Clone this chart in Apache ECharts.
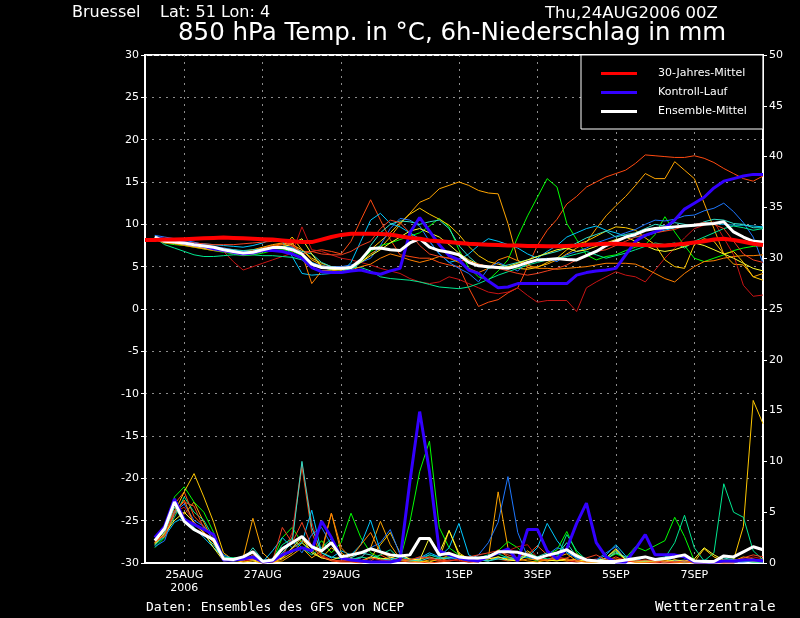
<!DOCTYPE html>
<html>
<head>
<meta charset="utf-8">
<script src="https://cdn.jsdelivr.net/npm/echarts@6/dist/echarts.min.js"></script>
<style>
  html, body { margin: 0; padding: 0; background: #000; }
  #chart { width: 800px; height: 618px; }
</style>
</head>
<body>
<div id="chart"></div>
<script>
'use strict';

// forecast hours since 24AUG2006 00Z (6h steps)
const HOURS = [0, 6, 12, 18, 24, 30, 36, 42, 48, 54, 60, 66, 72, 78, 84, 90, 96, 102, 108, 114,
  120, 126, 132, 138, 144, 150, 156, 162, 168, 174, 180, 186, 192, 198, 204, 210, 216, 222, 228, 234,
  240, 246, 252, 258, 264, 270, 276, 282, 288, 294, 300, 306, 312, 318, 324, 330, 336, 342, 348, 354,
  360, 366, 372, 378];
const TICK_HOURS = [24, 72, 120, 192, 240, 288, 336];
const TICK_LABELS = ['25AUG\n2006', '27AUG', '29AUG', '1SEP', '3SEP', '5SEP', '7SEP'];

// 30-year mean, from hour 0
const CLIMATE = [8.15, 8.15, 8.2, 8.2, 8.25, 8.3, 8.35, 8.4, 8.45, 8.4,
  8.35, 8.3, 8.25, 8.2, 8.1, 8.0, 7.9, 7.9, 8.2, 8.5,
  8.75, 8.9, 8.9, 8.9, 8.85, 8.8, 8.6, 8.4, 8.3, 8.1,
  8.0, 7.9, 7.8, 7.7, 7.65, 7.6, 7.55, 7.5, 7.5, 7.45,
  7.45, 7.4, 7.4, 7.45, 7.5, 7.6, 7.65, 7.7, 7.7, 7.65,
  7.6, 7.55, 7.5, 7.5, 7.6, 7.7, 7.85, 8.0, 8.2, 8.3,
  8.15, 7.95, 7.7, 7.55];

// all following series start at hour 6
const CTRL_T = [8.4, 8.2, 8.0, 7.8, 7.6, 7.4, 7.1, 6.9, 6.7, 6.5,
  6.6, 6.9, 6.9, 6.8, 6.5, 6.0, 4.9, 4.4, 4.3, 4.3,
  4.5, 4.6, 4.3, 4.1, 4.5, 4.8, 9.0, 10.8, 9.2, 7.6,
  6.3, 5.8, 4.6, 4.2, 3.3, 2.5, 2.6, 3.0, 3.0, 3.0,
  3.0, 3.0, 3.0, 4.0, 4.3, 4.5, 4.6, 4.8, 6.4, 8.0,
  8.7, 9.1, 9.6, 10.5, 11.8, 12.5, 13.2, 14.3, 15.1, 15.4,
  15.7, 15.9, 15.9];
const MEAN_T = [8.5, 8.0, 7.9, 7.8, 7.6, 7.45, 7.3, 7.0, 6.8, 6.6,
  6.7, 7.0, 7.25, 7.25, 7.0, 6.5, 5.3, 4.9, 4.85, 4.8,
  4.9, 5.8, 7.15, 7.2, 7.0, 6.9, 7.8, 8.3, 7.3, 6.9,
  6.7, 6.4, 5.5, 5.1, 5.0, 4.9, 4.8, 5.1, 5.5, 5.8,
  5.85, 5.95, 5.85, 5.8, 6.3, 6.8, 7.5, 8.0, 8.5, 8.8,
  9.3, 9.5, 9.6, 9.7, 9.8, 9.9, 10.0, 10.1, 10.3, 9.1,
  8.5, 8.0, 7.9];
const CTRL_P = [2.5, 3.6, 6.3, 4.3, 3.8, 3.3, 2.8, 0.3, 0.3, 0.4,
  0.6, 0.1, 0.2, 0.8, 1.2, 1.5, 1.2, 4.1, 2.5, 0.5,
  0.3, 0.2, 0.1, 0.1, 0.1, 0.3, 8.0, 14.9, 9.0, 1.2,
  0.8, 0.5, 0.3, 0.2, 0.6, 1.0, 1.4, 0.2, 3.3, 3.3,
  1.2, 0.4, 1.4, 3.9, 5.9, 2.0, 0.6, 0.1, 0.1, 1.4,
  2.8, 0.8, 0.8, 0.8, 0.6, 0.1, 0.1, 0.1, 0.2, 0.2,
  0.3, 0.3, 0.2];
const MEAN_P = [2.2, 3.4, 6.0, 4.1, 3.3, 2.8, 2.3, 0.4, 0.35, 0.6,
  1.1, 0.15, 0.3, 1.4, 2.0, 2.6, 1.6, 1.2, 2.0, 0.6,
  0.8, 1.0, 1.4, 1.1, 0.8, 0.7, 0.8, 2.4, 2.4, 0.8,
  0.95, 0.6, 0.5, 0.5, 0.6, 1.1, 1.1, 1.05, 0.8, 0.45,
  0.75, 1.0, 1.3, 0.7, 0.3, 0.2, 0.15, 0.15, 0.3, 0.45,
  0.6, 0.35, 0.45, 0.6, 0.8, 0.2, 0.15, 0.15, 0.7, 0.6,
  1.1, 1.6, 1.3];

// ensemble members: 850 hPa temperature
const T_A = [8.4, 8.1, 7.9, 7.7, 7.5, 7.4, 7.3, 7.2, 7.0, 6.8,
  6.9, 7.2, 7.5, 7.7, 7.4, 6.8, 6.8, 7.0, 6.8, 6.5,
  8.0, 10.5, 12.9, 10.5, 8.2, 6.4, 6.2, 6.0, 6.0, 5.5,
  5.2, 5.0, 2.5, 0.3, 0.8, 1.1, 1.9, 2.5, 5.0, 7.5,
  9.3, 10.6, 12.4, 13.3, 14.4, 15.0, 15.6, 16.0, 16.4, 17.2,
  18.2, 18.1, 18.0, 17.9, 17.9, 18.1, 17.8, 17.3, 16.6, 16.0,
  15.4, 15.1, 15.7];
const T_B = [8.3, 7.9, 7.8, 7.6, 7.5, 7.2, 7.1, 7.0, 6.9, 6.8,
  7.0, 7.3, 7.6, 7.8, 7.6, 7.0, 5.8, 5.2, 4.8, 4.6,
  4.8, 5.5, 6.5, 7.2, 8.5, 10.0, 11.3, 12.6, 13.1, 14.2,
  14.6, 15.0, 14.6, 14.0, 13.7, 13.6, 10.1, 5.8, 4.9, 5.0,
  5.3, 5.8, 6.5, 7.2, 7.9, 9.5, 11.0, 12.2, 13.3, 14.6,
  16.0, 15.4, 15.4, 17.4, 16.4, 15.4, 12.5, 9.5, 6.5, 5.3,
  5.2, 3.8, 4.2];
const T_C = [8.2, 7.8, 7.6, 7.5, 7.3, 7.1, 6.9, 6.7, 6.5, 6.3,
  6.4, 6.6, 6.9, 7.0, 6.8, 6.3, 5.5, 5.0, 4.6, 4.4,
  4.8, 5.6, 6.8, 7.5, 7.8, 8.2, 8.6, 9.0, 9.8, 10.7,
  9.7, 7.0, 4.9, 3.8, 3.4, 4.5, 5.8, 8.5, 11.0, 13.2,
  15.4, 14.4, 10.1, 8.2, 6.4, 5.8, 6.2, 6.4, 6.9, 7.3,
  7.6, 8.8, 10.9, 9.1, 7.5, 6.0, 5.6, 6.0, 6.4, 6.9,
  7.2, 7.4, 7.5];
const T_D = [8.3, 8.0, 7.8, 7.6, 7.4, 7.2, 7.0, 6.8, 5.6, 4.6,
  5.0, 5.4, 5.8, 6.2, 6.6, 9.7, 7.0, 6.8, 6.4, 6.0,
  5.8, 5.5, 5.2, 4.8, 4.5, 4.2, 3.6, 3.2, 3.0, 3.2,
  3.8, 3.5, 3.0, 2.5, 2.0, 1.8, 2.0, 2.5, 1.6, 0.8,
  1.0, 1.0, 1.0, -0.3, 2.5, 3.2, 3.8, 4.4, 4.0, 3.8,
  3.2, 4.6, 6.0, 7.2, 8.4, 9.5, 9.9, 10.3, 8.4, 6.4,
  2.8, 1.5, 1.65];
const T_E = [8.5, 8.1, 7.9, 7.7, 7.6, 7.4, 7.2, 7.0, 6.7, 6.5,
  6.6, 6.9, 7.2, 7.3, 8.5, 7.0, 6.0, 5.4, 5.0, 4.7,
  5.0, 5.8, 7.0, 8.0, 9.0, 10.2, 11.2, 11.9, 11.2, 10.6,
  9.9, 8.8, 7.4, 6.3, 5.6, 5.3, 5.0, 4.8, 4.7, 4.9,
  5.5, 6.0, 7.0, 7.6, 8.0, 8.6, 9.2, 9.7, 9.6, 9.3,
  8.4, 7.6, 5.8, 5.0, 4.8, 7.6, 8.3, 8.0, 6.5, 6.8,
  5.5, 3.8, 3.4];
const T_F = [8.6, 8.3, 8.1, 7.9, 7.8, 7.7, 7.6, 7.5, 7.4, 7.3,
  7.5, 7.8, 8.3, 8.0, 6.2, 4.2, 4.0, 4.1, 4.2, 4.3,
  5.5, 8.0, 10.5, 11.3, 10.1, 9.7, 9.0, 8.3, 8.0, 6.5,
  5.5, 5.8, 6.5, 7.5, 8.3, 8.0, 7.6, 7.2, 6.5, 6.0,
  6.8, 7.5, 8.5, 9.0, 9.5, 9.8, 9.3, 9.0, 8.6, 8.5,
  8.6, 9.0, 9.3, 9.6, 9.8, 10.0, 10.2, 10.1, 10.0, 9.9,
  9.9, 9.8, 9.7];
const T_G = [8.7, 8.5, 8.3, 8.1, 7.9, 7.6, 7.4, 7.2, 7.0, 6.8,
  6.8, 7.0, 7.2, 7.4, 7.3, 6.5, 5.5, 5.1, 5.0, 5.0,
  5.2, 5.5, 6.0, 7.5, 9.5, 10.7, 10.5, 9.8, 8.0, 6.5,
  5.5, 4.8, 4.2, 3.2, 4.8, 5.5, 5.0, 4.5, 5.5, 5.8,
  6.0, 5.6, 6.4, 6.8, 7.2, 7.8, 8.2, 8.6, 9.0, 9.4,
  10.0, 10.5, 10.4, 10.6, 11.0, 11.1, 11.6, 11.9, 12.5, 11.5,
  10.2, 8.5, 5.4];
const T_H = [8.4, 7.6, 7.2, 6.8, 6.4, 6.2, 6.2, 6.3, 6.4, 6.4,
  6.4, 6.3, 6.3, 6.2, 6.1, 5.8, 4.8, 4.5, 4.6, 4.8,
  4.9, 4.9, 4.5, 3.8, 3.6, 3.5, 3.4, 3.2, 2.9, 2.6,
  2.5, 2.4, 2.6, 3.0, 3.5, 4.0, 4.4, 4.8, 5.2, 5.5,
  5.8, 6.0, 6.2, 6.5, 6.8, 6.4, 6.0, 6.3, 6.6, 7.0,
  7.4, 7.8, 7.6, 7.8, 7.2, 8.0, 8.5, 9.0, 9.5, 9.8,
  9.6, 9.3, 9.5];
const T_I = [8.2, 7.8, 7.7, 7.5, 7.3, 7.1, 6.9, 6.8, 6.6, 6.4,
  6.6, 7.0, 7.4, 7.6, 7.8, 6.5, 3.0, 4.5, 4.6, 4.4,
  4.6, 5.0, 5.3, 6.0, 6.5, 6.2, 5.8, 5.5, 5.8, 6.2,
  6.0, 5.5, 4.8, 4.3, 4.8, 5.8, 6.2, 5.7, 5.2, 4.8,
  4.8, 4.7, 4.8, 4.9, 5.0, 5.2, 5.4, 5.4, 5.4, 5.3,
  4.8, 4.2, 3.6, 3.2, 4.2, 5.0, 5.6, 5.7, 6.0, 6.2,
  6.3, 6.3, 6.4];
const T_J = [8.6, 8.2, 8.0, 7.8, 7.6, 7.5, 7.3, 7.1, 7.0, 6.9,
  7.0, 7.1, 7.3, 7.4, 7.2, 6.8, 6.5, 5.5, 5.0, 4.8,
  4.6, 5.5, 7.5, 9.0, 10.0, 10.4, 10.3, 10.0, 10.3, 10.5,
  9.5, 7.5, 6.2, 5.2, 4.8, 5.0, 5.2, 5.5, 5.8, 6.2,
  6.5, 6.8, 7.2, 7.8, 8.4, 8.8, 9.2, 8.5, 8.8, 9.0,
  9.5, 10.0, 9.8, 10.2, 10.0, 9.8, 10.3, 10.6, 10.5, 10.1,
  10.0, 9.6, 9.6];
const T_K = [8.4, 8.0, 7.8, 7.6, 7.4, 7.2, 7.0, 6.8, 6.6, 6.4,
  6.5, 6.8, 7.1, 7.3, 7.7, 8.3, 6.5, 5.0, 4.7, 4.6,
  5.0, 5.5, 6.3, 7.0, 7.8, 8.5, 9.2, 9.5, 9.0, 8.5,
  7.6, 6.6, 5.8, 5.3, 5.0, 4.8, 5.0, 5.4, 5.8, 6.2,
  6.6, 7.0, 7.2, 6.8, 7.0, 7.4, 7.8, 8.2, 8.5, 8.0,
  7.5, 7.0, 6.8, 7.0, 7.4, 7.8, 7.5, 7.0, 6.5, 6.0,
  5.4, 4.8, 4.5];
const T_L = [8.5, 8.2, 8.0, 7.9, 7.8, 7.7, 7.6, 7.6, 7.6, 7.7,
  7.8, 7.9, 8.0, 8.0, 7.5, 6.5, 6.8, 6.5, 6.4, 6.4,
  6.8, 7.5, 8.0, 9.5, 10.5, 10.2, 9.0, 7.5, 6.5, 6.2,
  6.0, 5.8, 5.6, 5.3, 5.0, 4.8, 4.5, 4.2, 4.0, 4.2,
  4.5, 4.8, 5.2, 5.8, 6.2, 6.8, 7.0, 7.5, 8.0, 8.5,
  8.8, 9.0, 9.2, 9.4, 9.8, 10.0, 10.2, 10.0, 9.5, 8.0,
  6.5, 5.8, 5.5];

// ensemble members: 6h precipitation
const P_A = [2.0, 3.2, 5.8, 7.0, 4.6, 3.6, 2.6, 0.4, 0.2, 0.3,
  0.4, 0.0, 0.1, 0.6, 2.6, 9.5, 3.0, 0.6, 0.2, 0.1,
  0.1, 0.0, 0.2, 0.8, 0.3, 0.2, 0.1, 0.1, 0.0, 0.1,
  0.2, 0.3, 0.1, 0.1, 0.5, 0.4, 0.2, 0.3, 0.8, 1.7,
  0.8, 0.3, 0.5, 0.9, 0.3, 0.1, 0.2, 0.6, 0.2, 0.1,
  0.1, 0.0, 0.0, 0.0, 0.1, 0.2, 0.1, 0.0, 0.0, 0.0,
  0.3, 0.2, 0.2];
const P_B = [1.8, 3.0, 5.5, 4.8, 6.0, 4.0, 2.0, 0.3, 0.2, 0.5,
  4.4, 1.0, 0.1, 0.2, 0.8, 1.5, 0.5, 1.2, 4.9, 1.0,
  0.3, 0.5, 1.5, 4.1, 1.8, 0.4, 0.2, 0.1, 0.3, 0.2,
  0.5, 0.8, 0.4, 0.3, 0.5, 7.0, 1.5, 0.4, 0.2, 0.1,
  0.3, 0.6, 0.9, 0.2, 0.1, 0.1, 0.5, 1.3, 0.4, 0.1,
  0.1, 0.2, 0.1, 0.3, 0.1, 0.0, 0.0, 0.1, 0.0, 0.2,
  0.6, 0.4, 0.1];
const P_C = [1.5, 2.5, 6.5, 7.5, 6.0, 5.0, 3.0, 0.5, 0.5, 0.4,
  0.3, 0.1, 0.2, 2.5, 3.5, 2.0, 1.0, 2.2, 1.0, 2.0,
  4.9, 2.5, 1.0, 0.5, 0.2, 0.3, 4.0, 9.0, 12.0, 3.5,
  1.5, 0.8, 0.4, 0.3, 0.4, 1.2, 2.1, 1.5, 0.5, 0.2,
  0.8, 1.3, 3.1, 1.0, 0.2, 0.1, 0.4, 0.9, 0.5, 1.6,
  1.2, 1.7, 2.2, 4.5, 2.6, 0.2, 0.2, 0.1, 0.3, 0.4,
  0.2, 0.1, 0.1];
const P_D = [2.2, 2.8, 5.0, 5.5, 4.0, 3.0, 2.4, 0.4, 0.3, 0.2,
  0.3, 0.0, 0.2, 0.8, 3.0, 9.8, 4.0, 0.8, 0.3, 0.2,
  0.2, 0.1, 0.1, 0.2, 0.5, 0.3, 0.2, 0.6, 0.4, 0.2,
  0.3, 0.2, 0.1, 0.2, 0.5, 1.0, 1.2, 1.6, 1.8, 0.5,
  0.3, 0.5, 0.2, 0.1, 0.2, 0.4, 0.2, 0.3, 0.6, 0.2,
  0.1, 0.1, 0.0, 0.1, 0.1, 0.0, 0.0, 0.1, 0.0, 0.0,
  0.3, 0.6, 0.4];
const P_E = [2.0, 3.5, 5.0, 7.0, 8.8, 6.5, 4.0, 1.0, 0.3, 0.1,
  0.2, 0.0, 0.1, 0.4, 1.0, 2.0, 1.2, 0.5, 1.5, 0.8,
  0.3, 0.2, 0.5, 1.8, 3.0, 1.0, 0.3, 0.2, 0.1, 0.4,
  3.2, 1.0, 0.4, 0.3, 0.2, 0.6, 0.4, 0.3, 1.2, 0.5,
  0.2, 0.3, 0.2, 0.4, 0.2, 0.1, 0.2, 1.2, 0.3, 0.1,
  0.1, 0.2, 0.3, 0.1, 0.2, 0.1, 1.4, 0.6, 0.2, 0.3,
  3.6, 16.0, 13.7];
const P_F = [1.8, 2.6, 4.0, 4.5, 3.5, 2.5, 1.5, 0.6, 0.4, 0.6,
  0.4, 0.1, 1.2, 2.5, 1.5, 2.0, 5.2, 1.0, 0.5, 1.2,
  0.8, 1.8, 4.2, 1.2, 0.5, 0.3, 0.2, 0.5, 1.0, 0.6,
  1.5, 3.9, 0.8, 0.3, 0.2, 0.5, 0.6, 0.4, 0.6, 1.5,
  3.9, 2.2, 1.0, 0.5, 0.3, 0.2, 0.8, 1.8, 0.7, 0.3,
  0.2, 0.2, 0.4, 0.2, 0.1, 0.1, 0.3, 0.2, 0.1, 0.1,
  0.2, 0.3, 0.2];
const P_G = [1.6, 2.2, 5.0, 5.8, 4.2, 3.6, 2.2, 0.8, 0.4, 0.6,
  0.5, 0.2, 0.4, 1.5, 2.2, 1.0, 2.8, 3.5, 1.8, 0.6,
  0.4, 0.5, 1.5, 2.0, 3.3, 0.8, 0.3, 0.5, 0.8, 0.6,
  0.4, 0.5, 0.3, 0.8, 2.0, 4.0, 8.5, 3.0, 0.6, 0.3,
  0.8, 1.5, 1.2, 0.4, 0.2, 0.3, 1.0, 1.6, 0.3, 0.2,
  0.6, 0.2, 0.1, 0.2, 0.3, 0.1, 0.0, 0.1, 0.2, 0.1,
  0.1, 0.2, 0.3];
const P_H = [1.7, 2.8, 4.5, 6.5, 5.0, 4.2, 2.5, 0.6, 0.5, 0.5,
  0.6, 0.2, 0.3, 1.8, 2.4, 1.5, 0.8, 1.5, 2.4, 0.5,
  0.3, 0.6, 0.4, 0.8, 1.3, 0.4, 0.2, 0.3, 0.8, 0.5,
  0.6, 0.4, 0.2, 0.5, 0.8, 0.9, 0.5, 0.3, 1.0, 0.6,
  0.4, 0.5, 2.8, 1.2, 0.3, 0.2, 0.5, 1.2, 0.4, 0.3,
  0.2, 0.3, 0.5, 2.0, 4.7, 1.5, 0.2, 1.0, 7.8, 5.0,
  4.5, 1.2, 0.3];
const P_I = [2.3, 2.6, 4.8, 6.2, 3.8, 3.0, 2.0, 0.5, 0.3, 0.2,
  0.8, 0.2, 0.1, 0.5, 1.4, 2.2, 1.5, 1.0, 4.9, 1.5,
  0.5, 1.8, 3.0, 1.0, 0.6, 0.3, 0.2, 0.4, 0.6, 0.3,
  0.8, 0.5, 0.3, 0.2, 0.5, 1.3, 0.6, 0.2, 0.4, 0.3,
  0.2, 0.4, 0.3, 0.2, 0.1, 0.1, 0.3, 0.4, 0.2, 0.1,
  0.1, 0.1, 0.2, 0.1, 0.0, 0.1, 0.0, 0.1, 0.2, 0.3,
  0.4, 0.2, 0.1];
const P_J = [2.4, 3.0, 5.5, 4.0, 3.2, 2.8, 1.8, 0.3, 0.2, 0.3,
  1.5, 0.3, 0.2, 1.0, 2.0, 10.0, 3.5, 1.0, 0.6, 0.4,
  0.5, 1.0, 0.8, 0.4, 0.3, 0.6, 0.3, 0.2, 0.5, 0.4,
  0.5, 0.7, 0.4, 0.3, 0.2, 0.4, 0.3, 0.5, 0.8, 0.6,
  1.0, 0.8, 2.0, 0.6, 0.3, 0.2, 0.4, 1.0, 0.6, 0.2,
  0.2, 0.4, 0.6, 0.8, 0.5, 0.2, 0.1, 0.2, 0.5, 0.3,
  0.2, 0.1, 0.1];
const P_K = [1.9, 2.9, 4.2, 5.0, 4.0, 3.0, 1.5, 0.2, 0.3, 0.4,
  0.3, 0.1, 0.3, 0.5, 1.5, 2.5, 1.0, 0.5, 0.3, 0.6,
  0.4, 0.2, 0.6, 0.4, 0.5, 0.8, 0.4, 0.3, 2.5, 1.0,
  3.2, 0.8, 0.5, 0.3, 0.4, 0.6, 0.3, 0.2, 0.8, 0.4,
  0.3, 0.2, 0.4, 0.2, 0.3, 0.2, 0.5, 1.4, 0.3, 0.2,
  0.2, 0.2, 0.1, 0.3, 0.2, 0.4, 1.5, 0.8, 0.3, 0.2,
  0.3, 0.2, 0.2];
const P_L = [2.1, 2.7, 5.2, 6.0, 5.6, 3.4, 2.6, 0.5, 0.3, 0.3,
  0.4, 0.1, 0.2, 3.5, 2.0, 4.0, 1.6, 0.6, 0.3, 0.2,
  0.3, 0.2, 0.5, 0.3, 0.2, 0.4, 0.3, 0.6, 0.5, 0.3,
  0.2, 0.4, 0.6, 0.8, 1.0, 1.2, 0.8, 0.5, 1.0, 0.4,
  0.3, 0.6, 0.4, 0.2, 0.5, 0.8, 0.3, 0.2, 0.1, 0.2,
  0.3, 0.2, 0.1, 0.1, 0.2, 0.1, 0.1, 0.2, 0.1, 0.1,
  0.5, 0.8, 0.6];

const MEMBER_COLORS = ['#ff4a10', '#ffa500', '#00ff00', '#c81414', '#ffc800', '#00c8ff',
  '#1e78ff', '#00e890', '#ff8000', '#30e0c8', '#ffff30', '#f04020'];
const MEMBER_T = [T_A, T_B, T_C, T_D, T_E, T_F, T_G, T_H, T_I, T_J, T_K, T_L];
const MEMBER_P = [P_A, P_B, P_C, P_D, P_E, P_F, P_G, P_H, P_I, P_J, P_K, P_L];

const FONT = 'DejaVu Sans';
const MONO = 'DejaVu Sans Mono';
const isTick = (i, v) => TICK_HOURS.indexOf(Number(v)) >= 0;
const from6h = (arr) => [null].concat(arr);

function line(name, data, color, width, yIdx, z) {
  return {
    name, type: 'line', data, yAxisIndex: yIdx, z,
    symbol: 'none', showSymbol: false, silent: true,
    color, itemStyle: { color },
    lineStyle: { color, width }
  };
}

// title blocks carry a default 5px padding, positions below are the text corners minus that
function text(t, left, top, size, family) {
  return { text: t, left, top,
    textStyle: { color: '#fff', fontSize: size, fontWeight: 'normal', fontFamily: family } };
}

const series = [];
MEMBER_T.forEach((t, k) => series.push(line('m' + k, from6h(t), MEMBER_COLORS[k], 1, 0, 2)));
MEMBER_P.forEach((p, k) => series.push(line('p' + k, from6h(p), MEMBER_COLORS[k], 1, 1, 2)));
series.push(line('Kontroll-Lauf', from6h(CTRL_P), '#3300ff', 3, 1, 3));
series.push(line('Ensemble-Mittel', from6h(MEAN_P), '#ffffff', 3, 1, 4));
series.push(line('Kontroll-Lauf', from6h(CTRL_T), '#3300ff', 3, 0, 3));
series.push(line('Ensemble-Mittel', from6h(MEAN_T), '#ffffff', 3, 0, 4));
series.push(line('30-Jahres-Mittel', CLIMATE, '#ff0000', 4, 0, 5));

const chart = echarts.init(document.getElementById('chart'), null, { renderer: 'canvas' });
chart.setOption({
  backgroundColor: '#000',
  animation: false,
  title: [
    text('Bruessel', 67, 0, 16, FONT),
    text('Lat: 51 Lon: 4', 155, 0, 16, FONT),
    text('Thu,24AUG2006 00Z', 540, 0, 16.5, FONT),
    text('850 hPa Temp. in °C, 6h-Niederschlag in mm', 173, 16, 24.5, FONT),
    text('Daten: Ensembles des GFS von NCEP', 141, 596, 13, MONO),
    text('Wetterzentrale', 650, 595, 14.3, MONO)
  ],
  legend: {
    data: ['30-Jahres-Mittel', 'Kontroll-Lauf', 'Ensemble-Mittel'],
    orient: 'vertical', left: 581, top: 55,
    backgroundColor: '#000', borderColor: '#fff', borderWidth: 1,
    padding: [13, 16, 12, 20],
    itemWidth: 36, itemHeight: 3, itemGap: 8, icon: 'rect',
    selectedMode: false,
    textStyle: { color: '#fff', fontSize: 11, fontFamily: FONT, padding: [0, 0, 0, 16] }
  },
  grid: { left: 145, right: 37, top: 55, bottom: 55, show: true, borderColor: '#fff', borderWidth: 2 },
  xAxis: {
    type: 'category', data: HOURS, boundaryGap: false,
    axisLine: { onZero: false, lineStyle: { color: '#fff', width: 2 } },
    axisTick: { show: false },
    axisLabel: {
      interval: isTick, color: '#fff', fontSize: 11, fontFamily: FONT, margin: 6, lineHeight: 13,
      formatter: (v) => TICK_LABELS[TICK_HOURS.indexOf(Number(v))]
    },
    splitLine: { show: true, interval: isTick, lineStyle: { color: '#8c8c8c', type: [2, 5], width: 1 } }
  },
  yAxis: [
    {
      type: 'value', min: -30, max: 30, interval: 5, position: 'left',
      axisLine: { show: true, lineStyle: { color: '#fff', width: 2 } },
      axisTick: { show: true, length: 4, lineStyle: { color: '#fff' } },
      axisLabel: { color: '#fff', fontSize: 11, fontFamily: FONT, margin: 6 },
      splitLine: { show: true, lineStyle: { color: '#8c8c8c', type: [2, 5], width: 1 } }
    },
    {
      type: 'value', min: 0, max: 50, interval: 5, position: 'right',
      axisLine: { show: true, lineStyle: { color: '#fff', width: 2 } },
      axisTick: { show: true, length: 4, lineStyle: { color: '#fff' } },
      axisLabel: { color: '#fff', fontSize: 11, fontFamily: FONT, margin: 6 },
      splitLine: { show: false }
    }
  ],
  series
});
</script>
</body>
</html>
